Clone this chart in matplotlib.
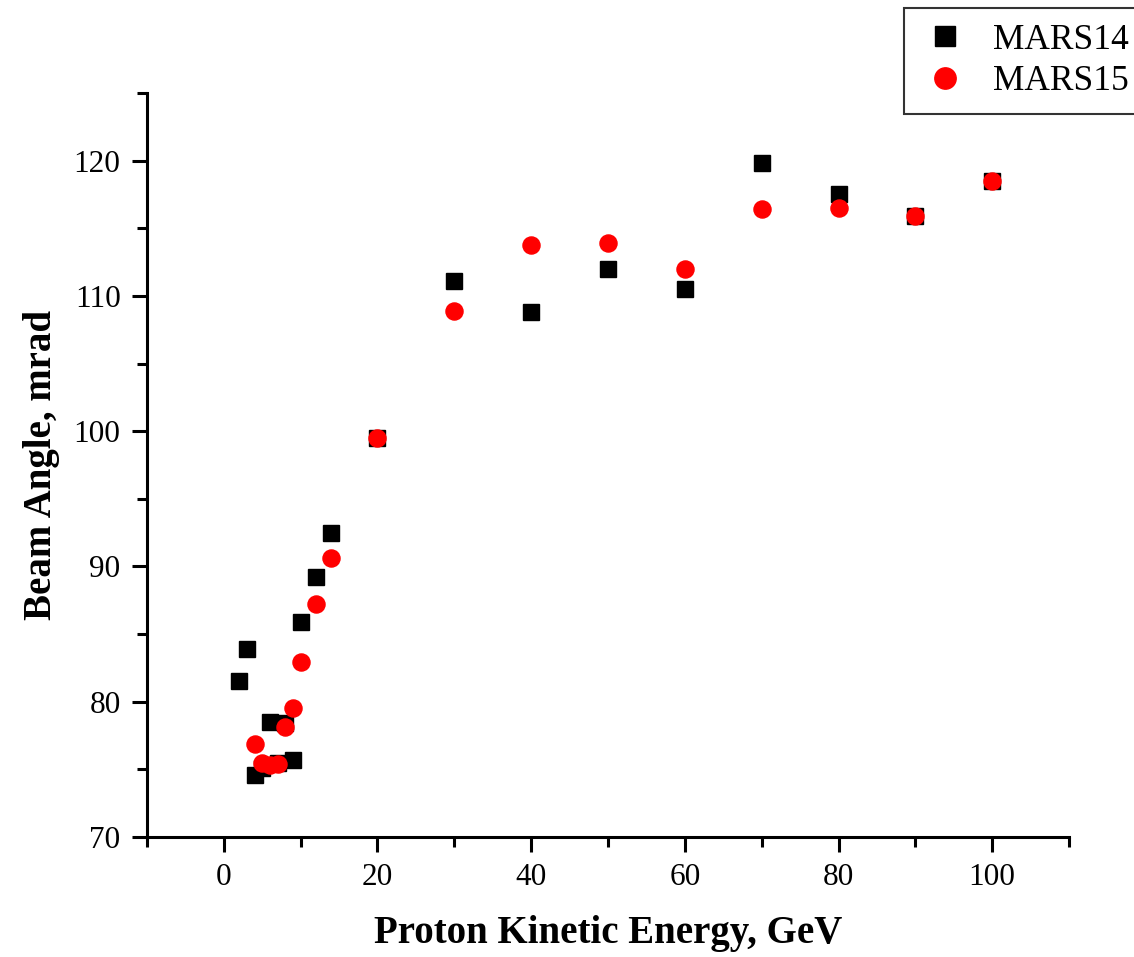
import matplotlib.pyplot as plt
from matplotlib.ticker import MultipleLocator

# energies, GeV
energy_m14 = [2, 3, 4, 5, 6, 7, 8, 9, 10, 12, 14, 20, 30, 40, 50, 60, 70, 80, 90, 100]
angle_m14 = [81.5, 83.9, 74.6, 75.1, 78.5, 75.5, 78.4, 75.7, 85.9, 89.2, 92.5,
             99.5, 111.1, 108.8, 112.0, 110.5, 119.8, 117.5, 115.9, 118.5]

energy_m15 = [4, 5, 6, 7, 8, 9, 10, 12, 14, 20, 30, 40, 50, 60, 70, 80, 90, 100]
angle_m15 = [76.9, 75.5, 75.3, 75.4, 78.1, 79.5, 82.9, 87.2, 90.6,
             99.5, 108.9, 113.8, 113.9, 112.0, 116.4, 116.5, 115.9, 118.5]

plt.rcParams['font.family'] = ['Liberation Serif', 'DejaVu Serif']

fig = plt.figure(figsize=(11.34, 9.57), dpi=100)
ax = fig.add_axes([0.1296, 0.1254, 0.8131, 0.7774])

ax.plot(energy_m14, angle_m14, 's', color='black', markersize=11.5, label='MARS14')
ax.plot(energy_m15, angle_m15, 'o', color='red', markersize=12.3, label='MARS15')

ax.set_xlim(-10, 110)
ax.set_ylim(70, 125)
ax.xaxis.set_major_locator(MultipleLocator(20))
ax.xaxis.set_minor_locator(MultipleLocator(10))
ax.yaxis.set_major_locator(MultipleLocator(10))
ax.yaxis.set_minor_locator(MultipleLocator(5))

for side in ['top', 'right']:
    ax.spines[side].set_visible(False)
for side in ['left', 'bottom']:
    ax.spines[side].set_linewidth(2.2)

ax.tick_params(which='major', direction='out', length=11, width=2.2, labelsize=22.5, pad=8)
ax.tick_params(which='minor', direction='out', length=7, width=2.2)

ax.set_xlabel('Proton Kinetic Energy, GeV', fontsize=28, fontweight='bold', labelpad=16)
ax.set_ylabel('Beam Angle, mrad', fontsize=28, fontweight='bold', labelpad=10)

# legend box runs off the right edge, as in the original
leg = fig.legend(loc='upper right', bbox_to_anchor=(1.009, 0.992), fontsize=25.5,
                 frameon=True, fancybox=False, edgecolor='black', handletextpad=0.65,
                 borderpad=0.45, labelspacing=0.25, handlelength=1.4, borderaxespad=0,
                 markerscale=1.25)
leg.get_frame().set_linewidth(1.5)

fig.savefig('out.png', dpi=100)
